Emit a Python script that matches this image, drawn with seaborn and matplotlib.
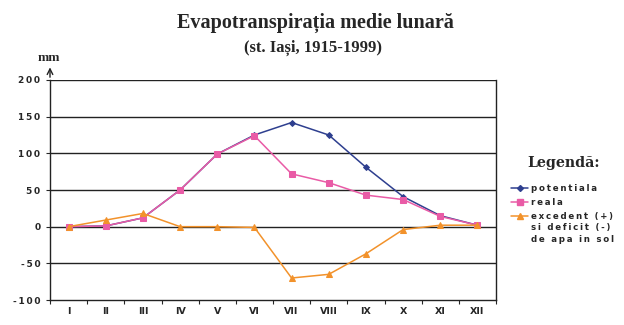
import matplotlib
matplotlib.use("Agg")
import matplotlib.pyplot as plt
import seaborn as sns
import pandas as pd
import numpy as np
from matplotlib.lines import Line2D

months = ["I", "II", "III", "IV", "V", "VI", "VII", "VIII", "IX", "X", "XI", "XII"]
potentiala = [0, 1, 12, 50, 99, 125, 142, 125, 81, 41, 15, 2]
reala = [0, 1, 12, 50, 99, 124, 72, 60, 43, 37, 14, 2]
excedent = [0, 9, 18, 0, 0, -1, -70, -65, -37, -4, 2, 2]
yticks = [-100, -50, 0, 50, 100, 150, 200]

labels = ["potentiala", "reala", "excedent (+)"]
label_extra = "si deficit (-)\nde apa in sol"
colors = ["#2E3F8F", "#E95BA6", "#F2922B"]
markers = ["D", "s", "^"]
msizes = [3, 4, 4.5]

sns.set_style("white")
plt.rcParams["font.family"] = ["DejaVu Sans"]

TS = "\u2009"


def spaced(s):
    return "\n".join(TS.join(ch for ch in line) for line in s.split("\n"))


fig = plt.figure(figsize=(6.24, 3.25), dpi=100)
ax = fig.add_axes([50/624, 25/325, 446/624, 220/325])

xpos = np.arange(len(months))
df = pd.DataFrame({"x": np.tile(xpos, 3),
                   "val": potentiala + reala + excedent,
                   "serie": np.repeat(labels, len(months))})

for lab, c, m, ms in zip(labels, colors, markers, msizes):
    sub = df[df["serie"] == lab]
    sns.lineplot(data=sub, x="x", y="val", ax=ax, color=c, marker=m,
                 markersize=ms, markeredgecolor=c, linewidth=1.1, legend=False)

ax.set_xlim(-0.5, 11.5)
ax.set_ylim(-100, 200)
ax.set_yticks(yticks)
ax.set_yticklabels([spaced(str(v)) for v in yticks], fontsize=6.5, fontweight="bold")
ax.set_xticks(xpos)
ax.set_xticklabels(months, fontsize=6.8, fontweight="bold")
ax.set_xticks(np.arange(-0.5, 12, 1), minor=True)
ax.tick_params(axis="x", which="major", length=0, pad=5)
ax.tick_params(axis="x", which="minor", length=3, width=0.8, direction="out", bottom=True)
ax.tick_params(axis="y", which="major", length=3, width=0.8, direction="out", left=True, pad=4)
ax.set_xlabel("")
ax.set_ylabel("")

for v in yticks[1:]:
    ax.axhline(v, color="#222222", linewidth=1.0, zorder=0.5)

ax.spines["top"].set_visible(False)
for s in ["left", "bottom", "right"]:
    ax.spines[s].set_color("#222222")
    ax.spines[s].set_linewidth(1.0)

# y-axis arrow
ax.annotate("", xy=(0, 1.07), xytext=(0, 1.0), xycoords="axes fraction",
            arrowprops=dict(arrowstyle="->", color="#222222", lw=1.0))

fig.text(315/624, 1 - 23/325, "Evapotranspirația medie lunară", ha="center", va="center",
         family="Liberation Serif", fontweight="bold", fontsize=14.5)
fig.text(313/624, 1 - 48/325, "(st. Iași, 1915-1999)", ha="center", va="center",
         family="Liberation Serif", fontweight="bold", fontsize=12)
fig.text(49/624, 1 - 58/325, "mm", ha="center", va="center",
         family="Liberation Serif", fontweight="bold", fontsize=9.5)
fig.text(564/624, 1 - 163/325, "Legendă:", ha="center", va="center",
         family="DejaVu Serif", fontweight="bold", fontsize=10.2)

handles = [Line2D([0], [0], color=c, marker=m, markersize=ms, markeredgecolor=c, linewidth=1.1)
           for c, m, ms in zip(colors, markers, msizes)]
leg = fig.legend(handles, [spaced(l) for l in labels], loc="upper left",
                 bbox_to_anchor=(511/624, 1 - 184/325),
                 frameon=False, fontsize=6.2, handlelength=2.0, handletextpad=0.3,
                 labelspacing=0.6, borderpad=0, borderaxespad=0)
for t in leg.get_texts():
    t.set_fontweight("bold")

fig.canvas.draw()
bb = leg.get_texts()[2].get_window_extent()
x0 = bb.x0 / fig.bbox.width
ytop = bb.y0 / fig.bbox.height
fig.text(x0, ytop - 1.5/325, spaced(label_extra), ha="left", va="top",
         fontsize=6.2, fontweight="bold", linespacing=1.45)

fig.savefig("out.png", dpi=100)
